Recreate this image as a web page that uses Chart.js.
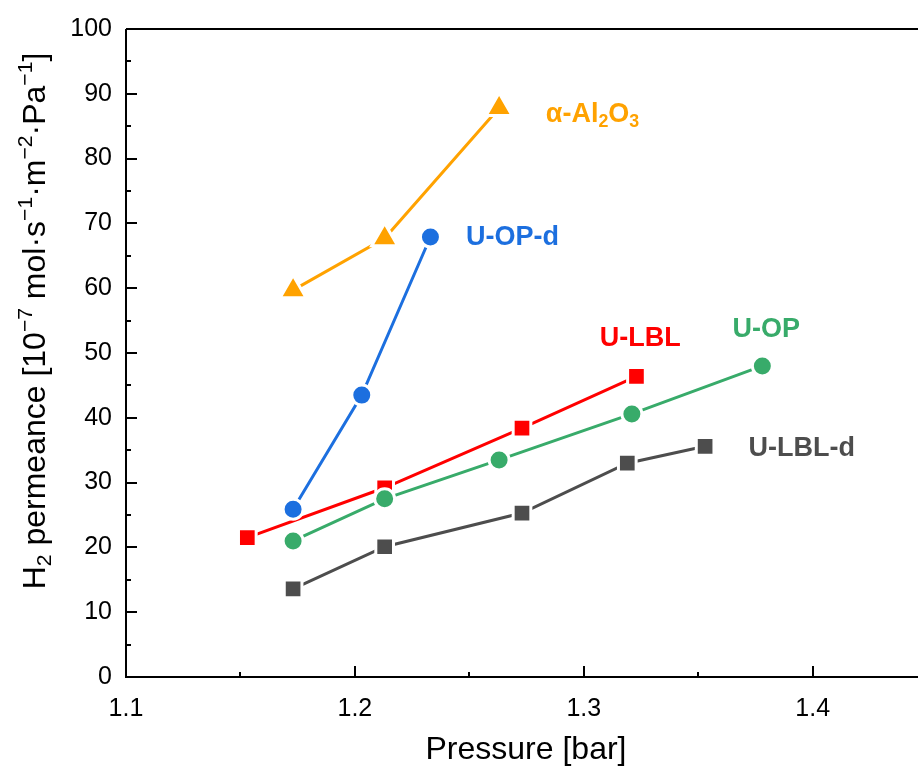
<!DOCTYPE html>
<html>
<head>
<meta charset="utf-8">
<script src="https://cdn.jsdelivr.net/npm/chart.js@4/dist/chart.umd.min.js"></script>
<style>
  html, body { margin: 0; background: #fff; overflow: hidden; }
  #wrap { width: 918px; height: 769px; position: relative; }
  canvas { display: block; }
</style>
</head>
<body>
<div id="wrap"><canvas id="myChart"></canvas></div>
<script>
// data
var alX = [1.173, 1.213, 1.263];
var alY = [59.7, 67.7, 87.8];
var opdX = [1.173, 1.203, 1.233];
var opdY = [25.9, 43.5, 67.9];
var lblX = [1.153, 1.213, 1.273, 1.323];
var lblY = [21.5, 29.2, 38.4, 46.4];
var opX = [1.173, 1.213, 1.263, 1.321, 1.378];
var opY = [21.0, 27.5, 33.5, 40.6, 48.0];
var lbldX = [1.173, 1.213, 1.273, 1.319, 1.353];
var lbldY = [13.6, 20.1, 25.3, 33.0, 35.6];

var xTicks = [1.1, 1.15, 1.2, 1.25, 1.3, 1.35, 1.4];
var yTicks = [0, 5, 10, 15, 20, 25, 30, 35, 40, 45, 50, 55, 60, 65, 70, 75, 80, 85, 90, 95, 100];

// series labels: [parts], x, y in data units, colour
var labels = [
  { parts: [["α-Al", 0], ["2", -1], ["O", 0], ["3", -1]], x: 1.2834, y: 87.2, color: "#FFA200" },
  { parts: [["U-OP-d", 0]], x: 1.2485, y: 68.2, color: "#1C6FDF" },
  { parts: [["U-LBL", 0]], x: 1.307, y: 52.6, color: "#FF0000" },
  { parts: [["U-OP", 0]], x: 1.365, y: 54.0, color: "#38AB6A" },
  { parts: [["U-LBL-d", 0]], x: 1.372, y: 35.6, color: "#4D4D4D" }
];

function pts(xs, ys) {
  var out = [];
  for (var i = 0; i < xs.length; i++) out.push({ x: xs[i], y: ys[i] });
  return out;
}

function series(data, color, style, r, ord) {
  return {
    data: data,
    showLine: true,
    borderColor: color,
    borderWidth: 3,
    backgroundColor: color,
    pointStyle: style,
    pointRadius: r,
    pointHoverRadius: r,
    pointBorderColor: "#fff",
    pointBorderWidth: 3,
    order: ord
  };
}

var FONT = "Arial, 'Liberation Sans', sans-serif";

// text with sub (-1) / super (1) parts, left at x, middle at y
function drawRich(ctx, parts, x, y, size, weight) {
  ctx.textBaseline = "alphabetic";
  ctx.textAlign = "left";
  var base = y + size * 0.36;
  for (var i = 0; i < parts.length; i++) {
    var mode = parts[i][1];
    var s = mode == 0 ? size : size * 0.66;
    ctx.font = weight + " " + s + "px " + FONT;
    var dy = mode == -1 ? size * 0.2 : (mode == 1 ? -size * 0.4 : 0);
    ctx.fillText(parts[i][0], x, base + dy);
    x += ctx.measureText(parts[i][0]).width;
  }
}
function measureRich(ctx, parts, size, weight) {
  var w = 0;
  for (var i = 0; i < parts.length; i++) {
    var s = parts[i][1] == 0 ? size : size * 0.66;
    ctx.font = weight + " " + s + "px " + FONT;
    w += ctx.measureText(parts[i][0]).width;
  }
  return w;
}

var yTitle = [["H", 0], ["2", -1], [" permeance [10", 0], ["−7", 1], [" mol·s", 0], ["−1", 1],
  ["·m", 0], ["−2", 1], ["·Pa", 0], ["−1", 1], ["]", 0]];

var framePlugin = {
  id: "frame",
  afterDraw: function(chart) {
    var ctx = chart.ctx;
    var a = chart.chartArea;
    var xs = chart.scales.x, ys = chart.scales.y;
    ctx.save();
    ctx.strokeStyle = "#000";
    ctx.lineWidth = 2;
    ctx.beginPath();
    ctx.moveTo(a.left, a.top); ctx.lineTo(a.left, a.bottom); ctx.lineTo(a.right, a.bottom);
    ctx.moveTo(a.left, a.top); ctx.lineTo(a.right, a.top);
    // inward ticks
    for (var i = 0; i < yTicks.length; i++) {
      var py = Math.round(ys.getPixelForValue(yTicks[i]));
      var len = yTicks[i] % 10 == 0 ? 11 : 5;
      ctx.moveTo(a.left, py); ctx.lineTo(a.left + len, py);
    }
    for (var j = 0; j < xTicks.length; j++) {
      var px = Math.round(xs.getPixelForValue(xTicks[j]));
      var l2 = j % 2 == 0 ? 11 : 5;
      ctx.moveTo(px, a.bottom); ctx.lineTo(px, a.bottom - l2);
    }
    ctx.stroke();

    // series labels
    for (var k = 0; k < labels.length; k++) {
      ctx.fillStyle = labels[k].color;
      drawRich(ctx, labels[k].parts, xs.getPixelForValue(labels[k].x), ys.getPixelForValue(labels[k].y), 27, "bold");
    }

    // axis titles
    ctx.fillStyle = "#000";
    ctx.font = "32px " + FONT;
    ctx.textAlign = "center";
    ctx.textBaseline = "middle";
    ctx.fillText("Pressure [bar]", 526, 750);

    ctx.translate(33, 321);
    ctx.rotate(-Math.PI / 2);
    var w = measureRich(ctx, yTitle, 32, "normal");
    drawRich(ctx, yTitle, -w / 2, 0, 32, "normal");
    ctx.restore();
  }
};

var ctx = document.getElementById("myChart").getContext("2d");
var myChart = new Chart(ctx, {
  type: "scatter",
  data: {
    datasets: [
      series(pts(alX, alY), "#FFA200", "triangle", 15, 1),
      series(pts(opdX, opdY), "#1C6FDF", "circle", 10, 2),
      series(pts(opX, opY), "#38AB6A", "circle", 10, 3),
      series(pts(lblX, lblY), "#FF0000", "rect", 12.5, 4),
      series(pts(lbldX, lbldY), "#4D4D4D", "rect", 12.5, 5)
    ]
  },
  options: {
    responsive: true,
    maintainAspectRatio: false,
    animation: false,
    layout: { autoPadding: false, padding: { top: 29, right: 0, left: 0, bottom: 0 } },
    plugins: { legend: { display: false }, tooltip: { enabled: false } },
    scales: {
      x: {
        type: "linear",
        min: 1.1,
        max: 1.446,
        grid: { display: false },
        border: { display: false },
        afterBuildTicks: function(scale) {
          scale.ticks = xTicks.map(function(v) { return { value: v }; });
        },
        afterFit: function(scale) {
          scale.height = 92;
          scale.paddingLeft = 0;
          scale.paddingRight = 0;
        },
        ticks: {
          autoSkip: false,
          maxRotation: 0,
          padding: 9,
          color: "#000",
          font: { family: FONT, size: 25 },
          callback: function(v) {
            var r = Math.round(v * 100);
            return r % 10 == 0 ? (r / 100).toFixed(1) : "";
          }
        }
      },
      y: {
        min: 0,
        max: 100,
        grid: { display: false },
        border: { display: false },
        afterBuildTicks: function(scale) {
          scale.ticks = yTicks.map(function(v) { return { value: v }; });
        },
        afterFit: function(scale) {
          scale.width = 126;
          scale.paddingTop = 0;
          scale.paddingBottom = 0;
        },
        ticks: {
          autoSkip: false,
          padding: 6,
          color: "#000",
          font: { family: FONT, size: 25 },
          callback: function(v) { return v % 10 == 0 ? v : ""; }
        }
      }
    }
  },
  plugins: [framePlugin]
});
</script>
</body>
</html>
